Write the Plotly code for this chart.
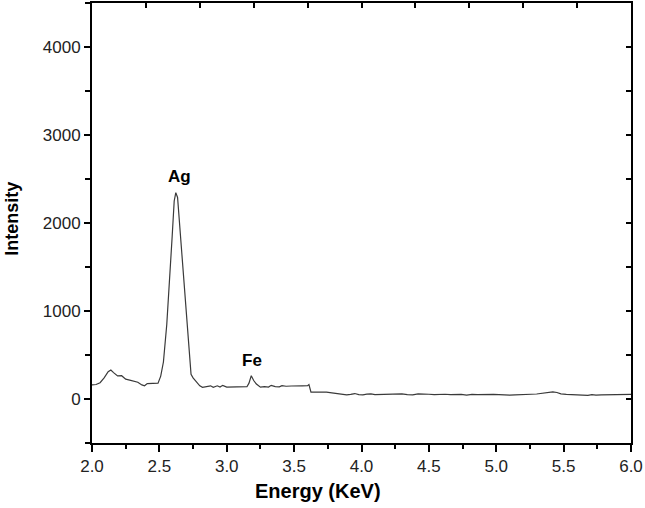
"""EDS spectrum (Ag / Fe) recreated with Plotly."""
import plotly.graph_objects as go

energy_kev = [
    2.00, 2.03, 2.06, 2.09, 2.12, 2.14, 2.16, 2.19, 2.22, 2.25, 2.28, 2.31,
    2.34, 2.37, 2.39, 2.41, 2.44, 2.47, 2.49, 2.51, 2.53, 2.555, 2.575, 2.595,
    2.61, 2.622, 2.635, 2.65, 2.67, 2.69, 2.71, 2.725, 2.735, 2.75, 2.77, 2.80,
    2.82, 2.85, 2.88, 2.90, 2.93, 2.95, 2.97, 3.00, 3.05, 3.10, 3.15, 3.165,
    3.182, 3.20, 3.22, 3.25, 3.28, 3.31, 3.33, 3.36, 3.39, 3.41, 3.44, 3.48,
    3.52, 3.56, 3.60, 3.61, 3.625, 3.66, 3.70, 3.74, 3.78, 3.82, 3.86, 3.89,
    3.92, 3.95, 3.98, 4.01, 4.04, 4.07, 4.10, 4.14, 4.18, 4.22, 4.26, 4.30,
    4.34, 4.38, 4.42, 4.46, 4.50, 4.54, 4.58, 4.62, 4.66, 4.70, 4.74, 4.78,
    4.82, 4.86, 4.90, 4.94, 4.98, 5.02, 5.06, 5.10, 5.14, 5.18, 5.22, 5.26,
    5.30, 5.34, 5.38, 5.42, 5.45, 5.48, 5.52, 5.56, 5.60, 5.64, 5.68, 5.71,
    5.74, 5.78, 5.82, 5.86, 5.90, 5.94, 5.98, 6.00,
]
intensity = [
    160, 165, 185, 240, 310, 330, 300, 262, 265, 225, 215, 205,
    190, 160, 150, 175, 178, 176, 180, 260, 420, 850, 1300, 1850,
    2250, 2345, 2290, 2000, 1600, 1200, 800, 450, 280, 240, 200, 150,
    132, 140, 150, 132, 150, 135, 155, 135, 135, 137, 140, 180,
    265, 210, 170, 135, 140, 135, 155, 140, 138, 152, 145, 148,
    146, 150, 152, 165, 78, 80, 82, 78, 70, 62, 56, 48,
    52, 62, 50, 48, 56, 58, 50, 52, 55, 56, 60, 58,
    50, 48, 58, 60, 54, 50, 56, 54, 50, 55, 53, 45,
    52, 50, 52, 55, 52, 50, 45, 43, 47, 52, 50, 54,
    57, 62, 72, 80, 74, 58, 52, 50, 47, 52, 42, 50,
    45, 48, 50, 47, 53, 50, 54, 52,
]

peak_labels = ["Ag", "Fe"]
peak_x = [2.65, 3.19]
peak_y = [2530, 433]

fig = go.Figure()
fig.add_trace(
    go.Scatter(
        x=energy_kev,
        y=intensity,
        mode="lines",
        line=dict(color="#3a3a3a", width=1.2),
        showlegend=False,
    )
)
# invisible trace so the mirrored top/right axes get drawn
fig.add_trace(
    go.Scatter(x=[2, 6], y=[0, 0], xaxis="x2", yaxis="y2", mode="lines",
               line=dict(width=0), hoverinfo="skip", showlegend=False)
)

for label, px, py in zip(peak_labels, peak_x, peak_y):
    fig.add_annotation(x=px, y=py, text=f"<b>{label}</b>", showarrow=False,
                       font=dict(size=17, color="black"))

fig.add_annotation(x=0.419, y=-0.08, xref="paper", yref="paper", yanchor="top",
                   text="<b>Energy (KeV)</b>", showarrow=False,
                   font=dict(size=20, color="black"))
fig.add_annotation(x=-0.15, y=0.51, xref="paper", yref="paper", xanchor="center",
                   textangle=-90, text="<b>Intensity</b>", showarrow=False,
                   font=dict(size=18, color="black"))

axis_common = dict(showgrid=False, zeroline=False, showline=True,
                   linecolor="black", linewidth=2, tickcolor="black", tickwidth=2)

fig.update_layout(
    width=645,
    height=508,
    margin=dict(l=92, r=14, t=3, b=65),
    paper_bgcolor="white",
    plot_bgcolor="white",
    font=dict(family="Liberation Sans, Arial, sans-serif", size=17, color="#222"),
    xaxis=dict(range=[2, 6], dtick=0.5, tick0=2, tickformat=".1f", ticks="outside",
               ticklen=7, minor=dict(dtick=0.25, ticks="outside", ticklen=4,
                                     tickcolor="black", tickwidth=1.5),
               **axis_common),
    yaxis=dict(range=[-500, 4500], dtick=1000, tick0=0, ticks="outside", ticklen=6,
               minor=dict(dtick=500, ticks="outside", ticklen=5,
                          tickcolor="black", tickwidth=1.5),
               **axis_common),
    xaxis2=dict(range=[2, 6], overlaying="x", side="top", dtick=0.4, tick0=2,
                ticks="inside", ticklen=5, showticklabels=False, **axis_common),
    yaxis2=dict(range=[-500, 4500], overlaying="y", side="right", dtick=500, tick0=0,
                ticks="inside", ticklen=5, showticklabels=False, **axis_common),
)

fig.write_html("out.html", config={"displayModeBar": False},
               post_script="document.body.style.margin='0px';")
